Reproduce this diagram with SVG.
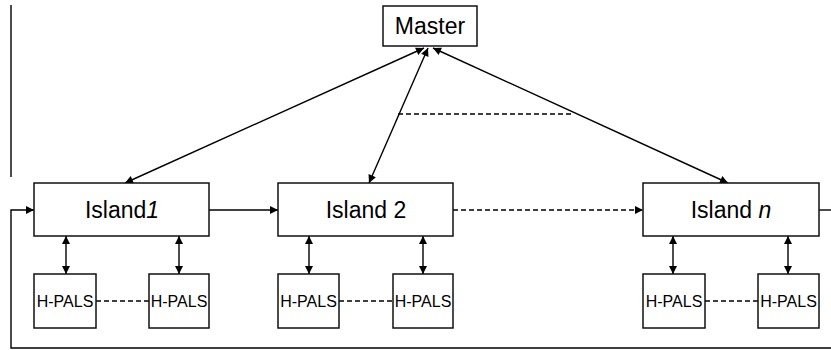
<svg xmlns="http://www.w3.org/2000/svg" width="831" height="350" viewBox="0 0 831 350">
<defs>
<marker id="ah" viewBox="0 0 10 10" refX="10" refY="5" markerWidth="9" markerHeight="8" markerUnits="userSpaceOnUse" orient="auto-start-reverse">
<path d="M0,0 L10,5 L0,10 z" fill="#000"/>
</marker>
<style>
.box{fill:#fff;stroke:#111;stroke-width:1.5}
.ln{stroke:#000;stroke-width:1.4;fill:none}
.ds{stroke:#000;stroke-width:1.3;fill:none;stroke-dasharray:5,3}
.t{font-family:"Liberation Sans",Arial,sans-serif;fill:#000;text-anchor:middle}
.big{font-size:23px}
.sm{font-size:16px}
</style>
</defs>
<rect width="831" height="350" fill="#fff"/>
<g id="connectors">
<line class="ln" x1="11" y1="5" x2="11" y2="177"/>
<line class="ln" x1="424" y1="48" x2="125" y2="183" marker-start="url(#ah)" marker-end="url(#ah)"/>
<line class="ln" x1="428" y1="48" x2="369" y2="183" marker-start="url(#ah)" marker-end="url(#ah)"/>
<line class="ln" x1="433" y1="48" x2="728" y2="183" marker-start="url(#ah)" marker-end="url(#ah)"/>
<line class="ds" x1="398" y1="114" x2="574" y2="114"/>
<line class="ln" x1="209" y1="210" x2="278" y2="210" marker-end="url(#ah)"/>
<line class="ds" x1="453" y1="210" x2="643" y2="210" marker-end="url(#ah)"/>
<polyline class="ln" points="819,210 831,210"/>
<polyline class="ln" points="831,348 11,348 11,210 34,210" marker-end="url(#ah)"/>
<line class="ln" x1="66" y1="236" x2="66" y2="274" marker-start="url(#ah)" marker-end="url(#ah)"/>
<line class="ln" x1="179" y1="236" x2="179" y2="274" marker-start="url(#ah)" marker-end="url(#ah)"/>
<line class="ln" x1="309" y1="236" x2="309" y2="274" marker-start="url(#ah)" marker-end="url(#ah)"/>
<line class="ln" x1="423" y1="236" x2="423" y2="274" marker-start="url(#ah)" marker-end="url(#ah)"/>
<line class="ln" x1="673" y1="236" x2="673" y2="274" marker-start="url(#ah)" marker-end="url(#ah)"/>
<line class="ln" x1="788" y1="236" x2="788" y2="274" marker-start="url(#ah)" marker-end="url(#ah)"/>
<line class="ds" x1="96" y1="301" x2="149" y2="301"/>
<line class="ds" x1="339" y1="301" x2="393" y2="301"/>
<line class="ds" x1="705" y1="301" x2="758" y2="301"/>
</g>
<g id="master">
<rect class="box" x="383" y="6" width="94" height="40"/>
<text class="t big" x="430" y="34">Master</text>
</g>
<g id="island1">
<rect class="box" x="34" y="183" width="175" height="53"/>
<text class="t big" x="122" y="218">Island<tspan font-style="italic">1</tspan></text>
</g>
<g id="island2">
<rect class="box" x="278" y="183" width="175" height="53"/>
<text class="t big" x="366" y="218">Island 2</text>
</g>
<g id="islandn">
<rect class="box" x="643" y="183" width="176" height="53"/>
<text class="t big" x="731" y="218">Island <tspan font-style="italic">n</tspan></text>
</g>
<g id="hpals1"><rect class="box" x="34" y="274" width="62" height="54"/><text class="t sm" x="65" y="307">H-PALS</text></g>
<g id="hpals2"><rect class="box" x="149" y="274" width="60" height="54"/><text class="t sm" x="179" y="307">H-PALS</text></g>
<g id="hpals3"><rect class="box" x="278" y="274" width="61" height="54"/><text class="t sm" x="308.5" y="307">H-PALS</text></g>
<g id="hpals4"><rect class="box" x="393" y="274" width="60" height="54"/><text class="t sm" x="423" y="307">H-PALS</text></g>
<g id="hpals5"><rect class="box" x="643" y="274" width="62" height="54"/><text class="t sm" x="674" y="307">H-PALS</text></g>
<g id="hpals6"><rect class="box" x="758" y="274" width="61" height="54"/><text class="t sm" x="788.5" y="307">H-PALS</text></g>
</svg>
